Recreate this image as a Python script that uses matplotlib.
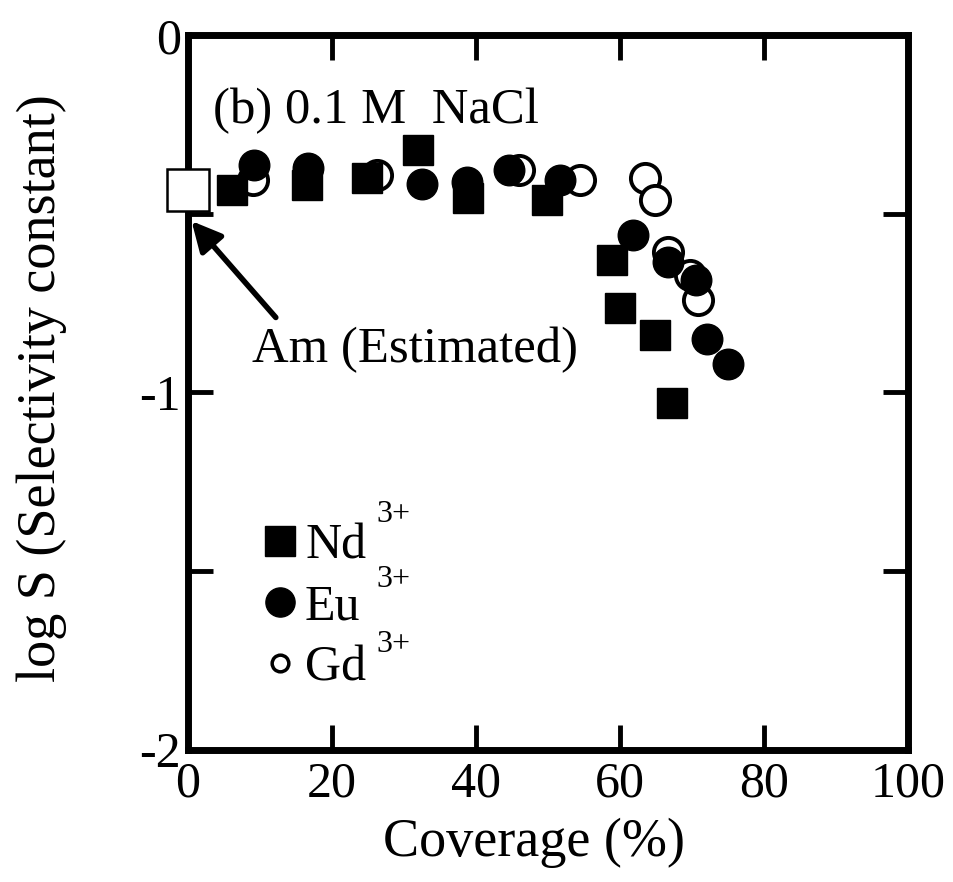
import matplotlib
matplotlib.use('Agg')
import matplotlib.pyplot as plt
from matplotlib.lines import Line2D

plt.rcParams['font.family'] = ['Liberation Serif', 'DejaVu Serif']
plt.rcParams['axes.unicode_minus'] = False

#%% Data: coverage (%) vs log S
nd_cov = [6.1, 16.5, 24.9, 31.9, 38.9, 49.9, 58.9, 60.0, 64.9, 67.2]
nd_logs = [-0.434, -0.42, -0.40, -0.32, -0.455, -0.46, -0.63, -0.764, -0.84, -1.03]

eu_cov = [9.2, 16.7, 32.5, 38.8, 44.6, 51.7, 61.8, 66.7, 70.6, 72.1, 75.0]
eu_logs = [-0.364, -0.372, -0.417, -0.41, -0.378, -0.405, -0.56, -0.635, -0.685, -0.85, -0.92]

gd_cov = [9.1, 26.2, 46.0, 54.4, 63.5, 64.9, 66.7, 69.7, 70.8]
gd_logs = [-0.406, -0.39, -0.378, -0.405, -0.40, -0.46, -0.607, -0.67, -0.741]

am_cov = [0.0]
am_logs = [-0.434]

ion_names = ['Nd', 'Eu', 'Gd']
x_ticks = [0, 20, 40, 60, 80, 100]
y_ticks = [0, -0.5, -1, -1.5, -2]
y_ticklabels = ['0', '', '-1', '', '-2']

#%% Plot
fig = plt.figure(figsize=(9.54, 8.82), dpi=100)
ax = fig.add_axes([0.197, 0.150, 0.755, 0.810])

ax.plot(gd_cov, gd_logs, 'o', ms=21, mfc='white', mec='black', mew=2.8, ls='none')
ax.plot(nd_cov, nd_logs, 's', ms=21, color='black', ls='none')
ax.plot(eu_cov, eu_logs, 'o', ms=22, color='black', ls='none')
ax.plot(am_cov, am_logs, 's', ms=30, mfc='white', mec='black', mew=1.8,
        ls='none', clip_on=False, zorder=5)

ax.set_xlim(0, 100)
ax.set_ylim(-2, 0)
ax.set_xticks(x_ticks)
ax.set_yticks(y_ticks)
ax.set_yticklabels(y_ticklabels)

for sp in ax.spines.values():
    sp.set_linewidth(5)
ax.tick_params(axis='both', which='both', direction='in', length=18, width=3.5,
               top=True, right=True, labelsize=36)
ax.tick_params(axis='x', pad=8)
ax.tick_params(axis='y', pad=5)

ax.set_xlabel('Coverage (%)', fontsize=39)
ax.xaxis.set_label_coords(0.48, -0.095)
ax.set_ylabel('log S (Selectivity constant)', fontsize=39)
ax.yaxis.set_label_coords(-0.168, 0.506)

# annotations
ax.text(3.5, -0.245, '(b) 0.1 M  NaCl', fontsize=36.5, va='baseline', ha='left')
ax.annotate('', xy=(0.5, -0.52), xytext=(12.2, -0.79),
            arrowprops=dict(arrowstyle='-|>', lw=4, mutation_scale=45, color='black',
                            shrinkA=0, shrinkB=0))
ax.text(8.9, -0.915, 'Am (Estimated)', fontsize=36.5, va='baseline', ha='left')

# legend
handles = [Line2D([], [], marker='s', ms=21, color='black', ls='none'),
           Line2D([], [], marker='o', ms=21, color='black', ls='none'),
           Line2D([], [], marker='o', ms=12, mfc='white', mec='black', mew=2.5, ls='none')]
ax.legend(handles, ion_names, loc='upper left', bbox_to_anchor=(0.107, 0.318),
          frameon=False, fontsize=36, handlelength=0.6, handletextpad=0.2,
          labelspacing=0.29, borderpad=0, borderaxespad=0)
for yy in [-1.362, -1.544, -1.726]:
    ax.text(26.2, yy, '3+', fontsize=23, va='baseline', ha='left')

fig.savefig('out.png', dpi=100)
